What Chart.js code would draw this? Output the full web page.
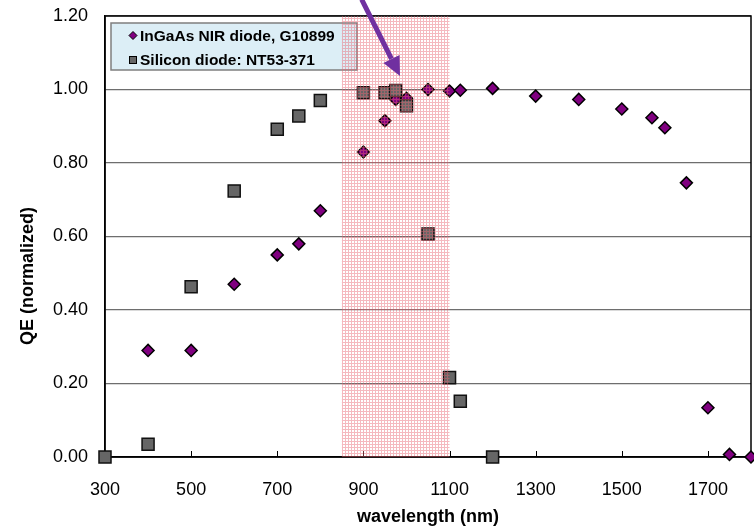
<!DOCTYPE html>
<html lang="en">
<head>
    <meta charset="UTF-8">
    <title>QE vs wavelength</title>
    <script src="https://cdn.jsdelivr.net/npm/chart.js"></script>
    <style>
        html, body {
            margin: 0;
            padding: 0;
            overflow: hidden;
            background-color: #fff;
        }
        canvas {
            display: block;
        }
    </style>
</head>
<body>
    <canvas id="qeChart" width="754" height="530"></canvas>

    <script>
        // InGaAs NIR diode (diamonds)
        const ingaasWavelength = [400, 500, 600, 700, 750, 800, 900, 950, 975, 1000, 1050, 1100, 1125,
                                  1200, 1300, 1400, 1500, 1570, 1600, 1650, 1700, 1750, 1800];
        const ingaasQE = [0.29, 0.29, 0.47, 0.55, 0.58, 0.67, 0.83, 0.915, 0.973, 0.976, 1.0, 0.996, 0.998,
                          1.003, 0.982, 0.973, 0.947, 0.923, 0.896, 0.746, 0.134, 0.007, 0.0];

        // Silicon diode (squares)
        const siliconWavelength = [300, 400, 500, 600, 700, 750, 800, 900, 950, 975, 1000, 1050, 1100, 1125, 1200];
        const siliconQE = [0.0, 0.035, 0.463, 0.724, 0.892, 0.928, 0.97, 0.991, 0.991, 0.997, 0.956, 0.607, 0.216, 0.152, 0.0];

        const seriesNames = ['InGaAs NIR diode, G10899', 'Silicon diode: NT53-371'];
        const xTickValues = [300, 500, 700, 900, 1100, 1300, 1500, 1700];
        const shadedBand = [850, 1100];          // nm
        const arrowFrom = [896, 1.245];          // [nm, QE]
        const arrowTo = [985, 1.037];

        const FONT = "'Liberation Sans', Arial, sans-serif";

        function toPoints(xs, ys) {
            return xs.map((x, i) => ({ x: x, y: ys[i] }));
        }

        function makeHatch(ctx) {
            const c = document.createElement('canvas');
            c.width = 3;
            c.height = 3;
            const g = c.getContext('2d');
            g.fillStyle = 'rgba(232, 100, 112, 0.45)';
            g.fillRect(0, 0, 3, 1);
            g.fillRect(0, 1, 1, 2);
            return ctx.createPattern(c, 'repeat');
        }

        const overlay = {
            id: 'overlay',
            beforeDatasetsDraw(chart) {
                const { ctx, chartArea: a, scales: { x } } = chart;
                ctx.save();

                // small tick marks pointing into the plot
                ctx.strokeStyle = '#000';
                ctx.lineWidth = 1;
                xTickValues.forEach(v => {
                    const px = Math.round(x.getPixelForValue(v)) + 0.5;
                    ctx.beginPath();
                    ctx.moveTo(px, a.bottom);
                    ctx.lineTo(px, a.bottom - 6);
                    ctx.stroke();
                });

                // plot frame
                ctx.lineWidth = 1.5;
                ctx.strokeRect(a.left, a.top, a.right - a.left, a.bottom - a.top);

                // y axis title
                ctx.fillStyle = '#000';
                ctx.font = 'bold 18px ' + FONT;
                ctx.textAlign = 'center';
                ctx.textBaseline = 'middle';
                ctx.translate(28, 276);
                ctx.rotate(-Math.PI / 2);
                ctx.fillText('QE (normalized)', 0, 0);
                ctx.setTransform(1, 0, 0, 1, 0, 0);

                // legend box
                const lx = a.left + 6, ly = a.top + 7, lw = 246, lh = 47;
                ctx.fillStyle = '#DCEEF6';
                ctx.fillRect(lx, ly, lw, lh);
                ctx.strokeStyle = '#7f7f7f';
                ctx.lineWidth = 1.5;
                ctx.strokeRect(lx, ly, lw, lh);

                ctx.font = 'bold 15.5px ' + FONT;
                ctx.textAlign = 'left';
                ctx.textBaseline = 'middle';
                ctx.lineWidth = 1;
                ctx.strokeStyle = '#000';

                // diamond marker
                const r1y = ly + 12.5, r2y = ly + 37;
                const mx = lx + 22;
                ctx.beginPath();
                ctx.moveTo(mx, r1y - 4);
                ctx.lineTo(mx + 4, r1y);
                ctx.lineTo(mx, r1y + 4);
                ctx.lineTo(mx - 4, r1y);
                ctx.closePath();
                ctx.fillStyle = '#800080';
                ctx.fill();
                ctx.stroke();
                ctx.fillStyle = '#000';
                ctx.fillText(seriesNames[0], mx + 7, r1y + 1);

                // square marker
                ctx.fillStyle = '#666';
                ctx.fillRect(mx - 3.5, r2y - 3.5, 7, 7);
                ctx.strokeRect(mx - 3.5, r2y - 3.5, 7, 7);
                ctx.fillStyle = '#000';
                ctx.fillText(seriesNames[1], mx + 7, r2y + 1);

                ctx.restore();
            },
            afterDatasetsDraw(chart) {
                const { ctx, chartArea: a, scales: { x, y } } = chart;
                ctx.save();

                // shaded band over the markers
                const x0 = x.getPixelForValue(shadedBand[0]);
                const x1 = x.getPixelForValue(shadedBand[1]);
                ctx.fillStyle = makeHatch(ctx);
                ctx.fillRect(x0, a.top, x1 - x0, a.bottom - a.top);

                // arrow
                const ax = x.getPixelForValue(arrowFrom[0]), ay = y.getPixelForValue(arrowFrom[1]);
                const bx = x.getPixelForValue(arrowTo[0]), by = y.getPixelForValue(arrowTo[1]);
                const ang = Math.atan2(by - ay, bx - ax);
                const headLen = 19, headHalf = 9;
                const hx = bx - headLen * Math.cos(ang), hy = by - headLen * Math.sin(ang);
                ctx.strokeStyle = '#7030A0';
                ctx.fillStyle = '#7030A0';
                ctx.lineWidth = 5;
                ctx.beginPath();
                ctx.moveTo(ax, ay);
                ctx.lineTo(hx, hy);
                ctx.stroke();
                ctx.beginPath();
                ctx.moveTo(bx, by);
                ctx.lineTo(hx + headHalf * Math.sin(ang), hy - headHalf * Math.cos(ang));
                ctx.lineTo(hx - headHalf * Math.sin(ang), hy + headHalf * Math.cos(ang));
                ctx.closePath();
                ctx.fill();

                ctx.restore();
            }
        };

        new Chart(document.getElementById('qeChart').getContext('2d'), {
            type: 'scatter',
            data: {
                datasets: [
                    {
                        label: seriesNames[0],
                        data: toPoints(ingaasWavelength, ingaasQE),
                        pointStyle: 'rectRot',
                        pointRadius: 6,
                        backgroundColor: '#800080',
                        borderColor: '#000',
                        borderWidth: 1.5,
                        clip: false,
                        order: 2
                    },
                    {
                        label: seriesNames[1],
                        data: toPoints(siliconWavelength, siliconQE),
                        pointStyle: 'rect',
                        pointRadius: 8.5,
                        backgroundColor: '#666666',
                        borderColor: '#111',
                        borderWidth: 1.5,
                        clip: false,
                        order: 1
                    }
                ]
            },
            options: {
                responsive: false,
                animation: false,
                layout: {
                    autoPadding: false,
                    padding: { left: 0, right: 3, top: 16, bottom: 0 }
                },
                plugins: {
                    legend: { display: false },
                    tooltip: { enabled: false }
                },
                scales: {
                    x: {
                        type: 'linear',
                        min: 300,
                        max: 1800,
                        afterBuildTicks: (scale) => {
                            scale.ticks = xTickValues.map(v => ({ value: v }));
                        },
                        afterFit: (scale) => {
                            scale.height = 73;
                            scale.paddingLeft = 0;
                            scale.paddingRight = 0;
                        },
                        grid: { display: false, drawTicks: false },
                        border: { display: true, color: '#000', width: 1.5 },
                        ticks: {
                            color: '#000',
                            padding: 22,
                            maxRotation: 0,
                            autoSkip: false,
                            font: { family: FONT, size: 18 },
                            callback: (v) => String(v)
                        },
                        title: {
                            display: true,
                            text: 'wavelength (nm)',
                            color: '#000',
                            padding: { top: 0, bottom: 2 },
                            font: { family: FONT, size: 18, weight: 'bold' }
                        }
                    },
                    y: {
                        min: 0,
                        max: 1.2,
                        afterFit: (scale) => {
                            scale.width = 105;
                            scale.paddingTop = 0;
                            scale.paddingBottom = 0;
                        },
                        grid: {
                            color: '#6e6e6e',
                            lineWidth: 1.2,
                            drawTicks: false
                        },
                        border: { display: true, color: '#000', width: 1.5 },
                        ticks: {
                            stepSize: 0.2,
                            color: '#000',
                            padding: 17,
                            font: { family: FONT, size: 18 },
                            callback: (v) => v.toFixed(2)
                        }
                    }
                }
            },
            plugins: [overlay]
        });
    </script>
</body>
</html>
